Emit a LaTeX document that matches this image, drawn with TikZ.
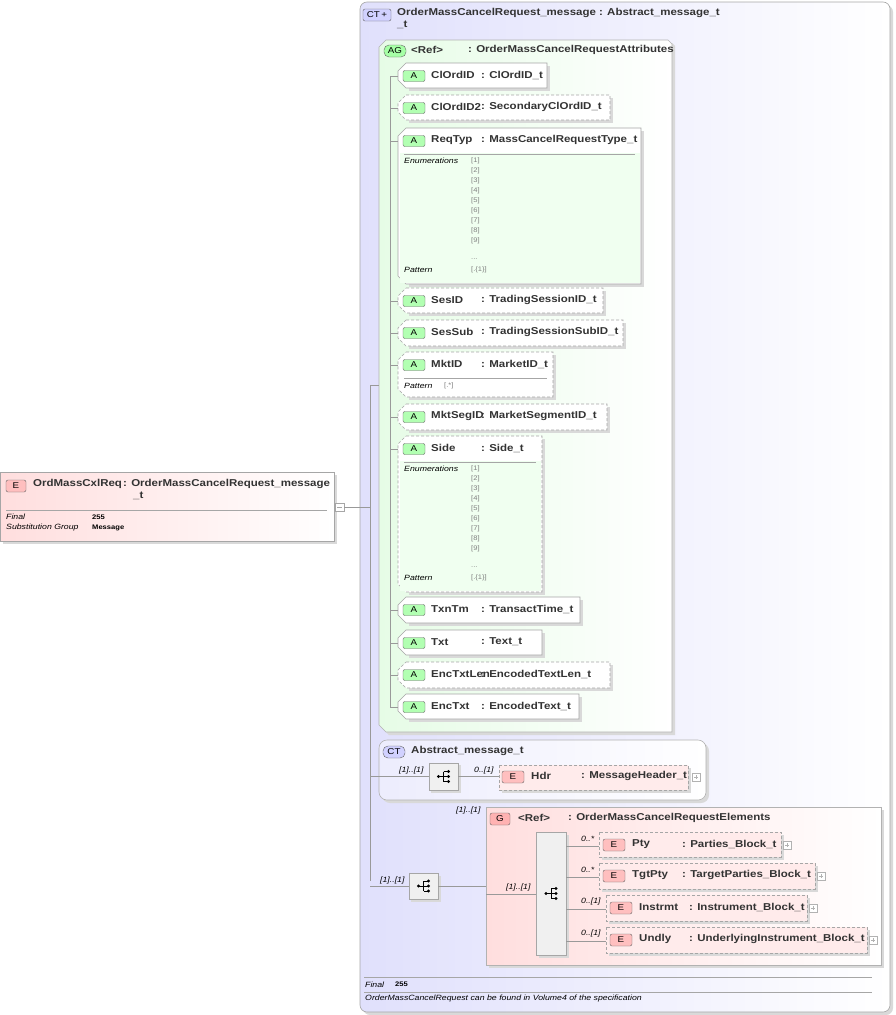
\documentclass[tikz,border=0pt]{standalone}
\usepackage{fontspec}
\setmainfont{Liberation Sans}[FakeStretch=1.15]
\begin{document}
\begin{tikzpicture}[x=1pt,y=-1pt,
  nm/.style={font=\bfseries\fontsize{10}{11}\selectfont,text=black!80,anchor=west,inner sep=0},
  sm/.style={font=\itshape\fontsize{7.6}{8}\selectfont,anchor=west,inner sep=0},
  tiny/.style={font=\fontsize{6.6}{7}\selectfont,text=gray,anchor=west,inner sep=0},
  ln/.style={draw=gray!80,line width=0.5pt},
  shadow/.style={fill=black!15,draw=none},
  abox/.style={draw=gray!70,fill=white,line width=0.6pt},
  dsh/.style={dash pattern=on 3pt off 2pt},
  badge/.style={draw=black!60,rounded corners=2pt,font=\fontsize{8.5}{9}\selectfont,inner sep=0,minimum width=22pt,minimum height=12pt},
  seq/.style={draw=gray!70,fill=gray!12,line width=0.5pt}]
\useasboundingbox (0,0) rectangle (895,1015);
\definecolor{lav}{RGB}{224,224,252}
\definecolor{grn}{RGB}{230,252,230}
\definecolor{pnk}{RGB}{255,222,222}
\newcommand\seqicon[2]{%
 \fill (#1-5,#2) circle (1.6pt);
 \draw[line width=0.6pt] (#1-5,#2)--(#1+4,#2) (#1,#2-5)--(#1,#2+5) (#1,#2-5)--(#1+4,#2-5) (#1,#2+5)--(#1+4,#2+5);
 \fill (#1+5,#2-5) circle (1.6pt) (#1+5,#2) circle (1.6pt) (#1+5,#2+5) circle (1.6pt);}
% outer CT box
\fill[shadow,rounded corners=7pt] (363,5) rectangle (893,1015);
\draw[draw=gray!70,rounded corners=7pt,left color=lav,right color=white,line width=0.6pt] (360,2) rectangle (890,1012);
\node[badge,fill=blue!18,minimum width=28pt] (ctb) at (377,15) {CT\,+};
\node[nm] (cttitle) at (397,13) {OrderMassCancelRequest\_message : Abstract\_message\_t};
\node[nm] at (397,25) {\_t};
% left element
\fill[shadow] (3,475) rectangle (337,544);
\draw[draw=gray!70,left color=pnk,right color=white,line width=0.6pt] (0,472) rectangle (334,541);
\node[badge,fill=red!25,minimum width=20pt] at (16,486) {E};
\node[nm] (el) at (33,484) {OrdMassCxlReq};
\node[nm] at (123,484) {: OrderMassCancelRequest\_message};
\node[nm] at (133,496) {\_t};
\draw[gray!70] (6,510)--(327,510);
\node[sm] at (6,517) {Final}; \node[font=\bfseries\fontsize{6.6}{7}\selectfont,anchor=west,inner sep=0] at (92,517) {255};
\node[sm] at (6,528) {Substitution Group}; \node[font=\bfseries\fontsize{6.6}{7}\selectfont,anchor=west,inner sep=0] at (92,528) {Message};
\draw[gray!70,fill=white] (335,503) rectangle (344,511); \draw[gray!70] (337,507)--(342,507);
\coordinate (junc) at (370,507);
\draw[ln] (344,507)--(junc);
\draw[ln] (370,385)--(370,881);
% AG group
\fill[shadow] (382,43) -- (672,43) -- (675,46) -- (675,735) -- (389,735) -- (382,728) -- cycle;
\draw[draw=gray!60,left color=grn,right color=white,line width=0.6pt] (386,40) -- (668,40) -- (672,44) -- (672,732) -- (386,732) -- (379,725) -- (379,47) -- cycle;
\node[badge,fill=green!35,rounded corners=5pt] at (395,51) {AG};
\node[nm] (ag) at (411,50) {<Ref>}; \node[nm] at (468,50) {: OrderMassCancelRequestAttributes};
\draw[ln] (370,385)--(379,385);
\draw[ln] (390,76)--(390,707);
% attributes
\newcommand\attr[7]{% top bottom right style name type id
 \fill[shadow] (409,#1+3) -- (#3+3,#1+3) -- (#3+3,#2+3) -- (409,#2+3) -- cycle;
 \draw[abox,#4] (406,#1) -- (#3,#1) -- (#3,#2) -- (406,#2) -- (398,#2-8) -- (398,#1+8) -- cycle;
 \node[badge,fill=green!30,minimum width=22pt,minimum height=11pt] at (414,#1+13) {A};
 \node[nm] (#7) at (431,#1+12) {#5}; \node[nm] at (481,#1+12) {: #6};
 \draw[ln] (390,#1+13)--(398,#1+13);}
\attr{63}{88}{547}{}{ClOrdID}{ClOrdID\_t}{a1}
\attr{95}{120}{610}{dsh}{ClOrdID2}{SecondaryClOrdID\_t}{a2}
\attr{128}{284}{641}{}{ReqTyp}{MassCancelRequestType\_t}{a3}
\attr{288}{313}{603}{dsh}{SesID}{TradingSessionID\_t}{a4}
\attr{320}{346}{623}{dsh}{SesSub}{TradingSessionSubID\_t}{a5}
\attr{352}{397}{553}{dsh}{MktID}{MarketID\_t}{a6}
\attr{404}{430}{607}{dsh}{MktSegID}{MarketSegmentID\_t}{a7}
\attr{436}{592}{542}{dsh}{Side}{Side\_t}{a8}
\attr{597}{623}{580}{}{TxnTm}{TransactTime\_t}{a9}
\attr{630}{655}{542}{}{Txt}{Text\_t}{a10}
\attr{662}{688}{610}{dsh}{EncTxtLen}{EncodedTextLen\_t}{a11}
\attr{694}{719}{579}{}{EncTxt}{EncodedText\_t}{a12}
% enumerations
\newcommand\enums[2]{% top right
 \fill[green!6] (400,#1+25) rectangle (#2-1,#1+155);
 \draw[gray!70] (404,#1+26)--(#2-6,#1+26);
 \node[sm] at (404,#1+33) {Enumerations};
 \foreach \i in {1,...,9} {\node[tiny] at (471,#1+33+10*\i-10) {[\i]};}
 \node[tiny] at (471,#1+131) {...};
 \node[sm] at (404,#1+142) {Pattern}; \node[tiny] at (471,#1+142) {[.\{1\}]};}
\enums{128}{641}
\enums{436}{542}
\draw[gray!70] (404,378)--(547,378);
\node[sm] at (404,386) {Pattern}; \node[tiny] at (444,386) {[.*]};
% Abstract_message_t
\fill[shadow,rounded corners=8pt] (382,743) rectangle (709,803);
\draw[draw=gray!60,left color=lav!60,right color=white,rounded corners=8pt,line width=0.6pt] (379,740) rectangle (706,800);
\node[badge,fill=blue!18,rounded corners=5pt] at (394,752) {CT};
\node[nm] (amt) at (411,751) {Abstract\_message\_t};
\fill[shadow] (431,765) rectangle (461,793);
\node[seq,minimum width=29pt,minimum height=27pt,inner sep=0] (s1) at (443.5,776.5) {};
\seqicon{443.5}{776.5}
\draw[ln] (370,776.5)--(s1.west);
\node[sm] at (399,771) {[1]..[1]};
\fill[shadow] (502,768) rectangle (691,793);
\draw[abox,dsh,fill=pnk!60] (499,765) rectangle (688,790);
\node[badge,fill=red!25,minimum width=22pt] at (513,777) {E};
\node[nm] (hdr) at (531,776) {Hdr}; \node[nm] at (581,776) {: MessageHeader\_t};
\draw[gray!60,fill=white] (692,773) rectangle (700,781); \draw[gray!60] (694,777)--(698,777) (696,775)--(696,779);
\draw[ln] (s1.east)--(499,776.5);
\node[sm] at (474,771) {0..[1]};
% G group
\fill[shadow] (489,810) rectangle (884,968);
\draw[draw=gray!60,left color=pnk,right color=white,line width=0.6pt] (486,807) rectangle (881,965);
\node[sm] at (456,811) {[1]..[1]};
\node[badge,fill=red!30,minimum width=20pt] at (500,819) {G};
\node[nm] (g) at (518,818) {<Ref>}; \node[nm] at (568,818) {: OrderMassCancelRequestElements};
\fill[shadow] (411,876) rectangle (441,902);
\node[seq,minimum width=29pt,minimum height=26pt,inner sep=0] (s2) at (423.5,886) {};
\seqicon{423.5}{886}
\draw[ln] (370,886)--(s2.west);
\node[sm] at (380,881) {[1]..[1]};
\draw[ln] (s2.east)--(486,886);
\draw[ln] (486,894)--(536,894);
\node[sm] at (506,888) {[1]..[1]};
\fill[shadow] (539,835) rectangle (569,958);
\node[seq,minimum width=30pt,minimum height=123pt,inner sep=0] (s3) at (551,893.5) {};
\seqicon{551}{893.5}
\newcommand\elem[8]{% left top bottom right name type card id
 \fill[shadow] (#1+3,#2+3) rectangle (#4+3,#3+3);
 \draw[abox,dsh,fill=pnk!60] (#1,#2) rectangle (#4,#3);
 \node[badge,fill=red!25,minimum width=22pt] at (#1+15,#2+13) {E};
 \node[nm] (#8) at (#1+33,#2+12) {#5}; \node[nm] at (682-599+#1,#2+12) {: #6};
 \draw[gray!60,fill=white] (#4+2,#2+9) rectangle (#4+10,#2+17); \draw[gray!60] (#4+4,#2+13)--(#4+8,#2+13) (#4+6,#2+11)--(#4+6,#2+15);
 \draw[ln] (566,#2+14)--(#1,#2+14);
 \node[sm] at (581,#2+7) {#7};}
\elem{599}{832}{857}{781}{Pty}{Parties\_Block\_t}{0..*}{e1}
\elem{599}{863}{889}{815}{TgtPty}{TargetParties\_Block\_t}{0..*}{e2}
\elem{606}{895}{921}{807}{Instrmt}{Instrument\_Block\_t}{0..[1]}{e3}
\elem{606}{927}{953}{867}{Undly}{UnderlyingInstrument\_Block\_t}{0..[1]}{e4}
% footer
\draw[gray!70] (364,977)--(872,977);
\node[sm] at (365,985) {Final}; \node[font=\bfseries\fontsize{6.6}{7}\selectfont,anchor=west,inner sep=0] at (395,984) {255};
\draw[gray!70] (364,992)--(872,992);
\node[sm] at (365,999) {OrderMassCancelRequest can be found in Volume4 of the specification};
\end{tikzpicture}
\end{document}
